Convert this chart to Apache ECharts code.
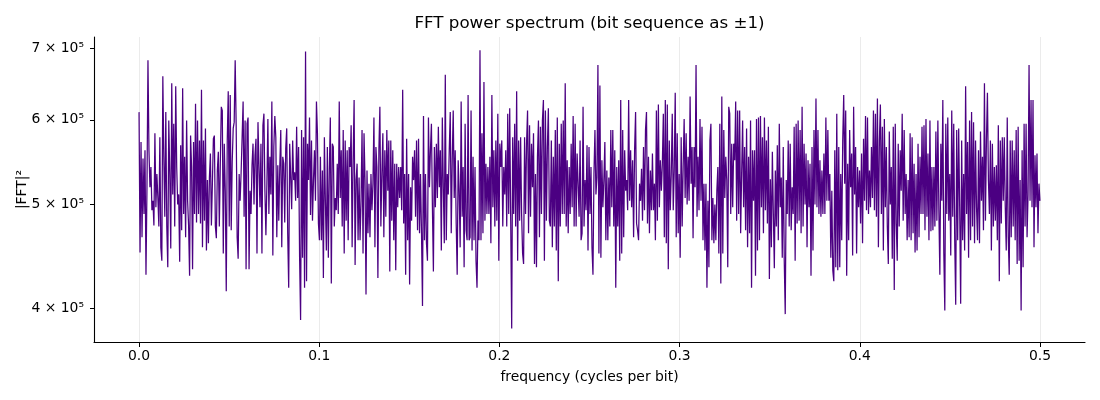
<!DOCTYPE html>
<html>
<head>
<meta charset="utf-8">
<script src="https://cdn.jsdelivr.net/npm/echarts@6/dist/echarts.min.js"></script>
<style>
  html, body { margin: 0; padding: 0; background: #fff; }
  #chart { width: 1100px; height: 400px; }
</style>
</head>
<body>
<div id="chart"></div>
<script>
// |FFT|^2 per frequency bin, in thousands
const powerThousands = [
  610,451,572,466,552,490,562,430,519,682,562,519,542,494,504,478,583,497,534,507,
  477,578,456,443,659,554,487,610,477,437,599,534,455,649,511,595,477,645,542,500,
  511,442,568,473,642,490,554,466,599,504,478,429,580,542,435,572,490,621,481,599,
  490,574,480,640,456,574,483,589,453,527,460,530,558,478,523,576,580,477,465,538,
  560,477,546,617,612,450,570,515,415,574,638,477,633,473,548,589,597,682,593,466,
  445,534,504,536,578,624,487,599,435,595,603,435,515,490,544,570,500,556,576,450,
  597,595,497,570,450,593,608,515,468,523,601,490,554,511,624,448,566,605,578,466,
  544,483,542,587,456,554,546,481,564,589,470,418,570,572,495,574,527,
  536,504,591,507,566,446,390,587,446,578,418,695,424,570,527,603,489,574,483,527,
  562,504,624,583,480,463,554,463,538,427,578,504,453,566,446,538,603,422,570,566,
  477,507,494,546,490,624,507,562,477,587,450,574,483,562,463,566,542,593,456,550,
  626,439,527,546,463,530,463,504,587,450,583,527,412,538,470,523,466,534,494,523,
  603,456,566,542,427,562,617,477,534,583,466,562,487,587,515,574,433,574,483,562,
  463,546,434,546,497,542,507,542,494,640,480,534,430,576,463,534,421,519,483,554,
  527,562,487,574,473,576,470,534,470,402,605,463,534,460,443,603,519,562,
  595,497,433,566,497,570,507,591,519,562,453,603,519,460,661,463,534,511,562,610,
  470,550,612,507,562,480,430,550,515,456,624,487,542,437,595,473,463,633,463,466,
  612,453,554,463,542,443,418,483,463,697,463,583,470,651,483,546,490,542,490,554,
  460,633,497,562,477,574,483,608,443,570,542,574,477,542,511,562,477,608,490,615,
  483,383,578,490,595,477,638,443,574,483,578,490,450,440,578,490,570,612,470,593,
  487,570,519,583,440,534,437,554,599,466,591,490,599,626,443,612,483,566,615,483,
  477,574,456,554,477,587,453,603,424,570,477,595,490,599,490,649,477,550,470,542,
  490,570,497,605,477,595,477,558,
  523,487,574,463,470,617,477,527,494,568,453,566,490,542,456,430,534,587,511,530,
  675,450,646,446,550,497,527,572,463,538,463,530,477,587,497,587,477,562,418,542,
  477,550,443,626,450,587,466,562,515,527,494,626,504,562,497,550,466,562,610,480,
  473,463,523,504,540,483,566,494,587,610,480,554,470,538,494,558,494,523,463,612,
  483,620,497,550,515,546,608,466,626,460,620,435,574,494,534,608,494,538,636,466,
  583,470,534,446,578,477,542,601,507,583,500,554,504,631,523,566,465,566,519,675,
  487,554,494,601,504,591,463,523,453,523,418,504,437,574,595,463,507,460,500,463,
  515,542,450,595,422,631,450,587,507,554,527,437,617,608,490,570,497,570,
  550,624,483,612,490,612,470,534,599,497,566,473,589,456,554,470,599,418,562,504,
  562,429,601,453,603,463,605,497,578,470,603,494,574,480,591,426,528,456,560,490,
  436,538,477,568,463,595,497,530,446,566,443,395,527,490,574,477,570,473,519,490,
  591,443,595,480,599,483,587,470,617,477,570,500,558,456,550,497,546,429,566,453,
  587,500,628,497,587,490,550,487,538,490,558,490,603,504,587,504,534,446,515,434,
  424,562,437,608,434,566,437,534,463,574,633,523,612,429,546,463,587,519,558,448,
  617,511,566,450,542,497,538,480,558,460,576,504,605,494,603,490,538,497,566,507,
  612,494,608,487,628,456,574,
  620,490,591,453,601,497,566,477,440,585,500,542,445,591,416,595,480,443,570,477,
  562,515,608,483,587,490,534,463,527,466,583,463,578,470,546,451,534,453,570,466,
  554,490,591,490,593,473,601,487,558,463,599,472,542,473,542,477,585,483,599,494,
  430,570,504,626,450,398,595,490,603,483,534,448,612,487,595,463,403,587,463,589,
  497,404,574,463,534,453,645,490,572,446,599,463,610,477,597,460,574,497,463,562,
  460,585,504,554,473,649,483,574,636,527,490,574,453,570,477,542,483,544,463,593,
  424,574,480,578,504,578,497,453,603,466,430,574,466,574,477,562,463,587,440,591,
  443,527,398,562,437,595,477,595,466,511,675,504,626,497,626,456,556,497,558,470,
  523,504
];

const xTicks = [0, 0.1, 0.2, 0.3, 0.4, 0.5];
const yTicks = [400000, 500000, 600000, 700000];
const yTickLabels = ['4 × 10⁵', '5 × 10⁵', '6 × 10⁵', '7 × 10⁵'];

const power = powerThousands.map(v => v * 1000);
// FFT bins are evenly spaced from 0 up to the Nyquist frequency 0.5
const freqs = power.map((_, i) => i * 0.5 / (power.length - 1));
const points = power.map((p, i) => [freqs[i], p]);

const font = 'DejaVu Sans';

var dom = document.getElementById('chart');
var myChart = echarts.init(dom, null, { renderer: 'canvas' });

var option = {
    animation: false,
    backgroundColor: '#fff',
    title: {
        text: 'FFT power spectrum (bit sequence as ±1)',
        left: 589.5,
        top: 15,
        padding: 0,
        textAlign: 'center',
        textStyle: { fontFamily: font, fontSize: 16.7, fontWeight: 'normal', color: '#000' }
    },
    grid: { left: 94, right: 15, top: 37, bottom: 58 },
    xAxis: {
        type: 'value',
        min: -0.025,
        max: 0.525,
        name: 'frequency (cycles per bit)',
        nameLocation: 'middle',
        nameGap: 28,
        nameTextStyle: { fontFamily: font, fontSize: 13.9, color: '#000' },
        axisLine: { onZero: false, lineStyle: { color: '#000', width: 1.1 } },
        axisTick: { customValues: xTicks, length: 5, lineStyle: { color: '#000', width: 1 } },
        axisLabel: {
            customValues: xTicks,
            formatter: v => v.toFixed(1),
            margin: 7,
            fontFamily: font,
            fontSize: 13.9,
            color: '#000'
        },
        splitLine: { show: true, lineStyle: { color: '#ebebeb', width: 1 } }
    },
    yAxis: {
        type: 'log',
        logBase: 10,
        min: 372000,
        max: 717000,
        name: '|FFT|²',
        nameLocation: 'middle',
        nameRotate: 90,
        nameGap: 65,
        nameMoveOverlap: false,
        nameTextStyle: { fontFamily: font, fontSize: 13.9, color: '#000' },
        axisLine: { show: true, onZero: false, lineStyle: { color: '#000', width: 1.1 } },
        axisTick: { show: true, customValues: yTicks, length: 4, lineStyle: { color: '#000', width: 1 } },
        axisLabel: {
            customValues: yTicks,
            formatter: v => yTickLabels[yTicks.indexOf(Math.round(v))] || '',
            margin: 10,
            fontFamily: font,
            fontSize: 13.9,
            color: '#000'
        },
        splitLine: { show: false }
    },
    series: [
        {
            type: 'line',
            data: points,
            showSymbol: false,
            symbol: 'none',
            lineStyle: { color: '#4b0082', width: 1.25 },
            emphasis: { disabled: true }
        }
    ]
};

myChart.setOption(option);
window.addEventListener('resize', myChart.resize);
</script>
</body>
</html>
